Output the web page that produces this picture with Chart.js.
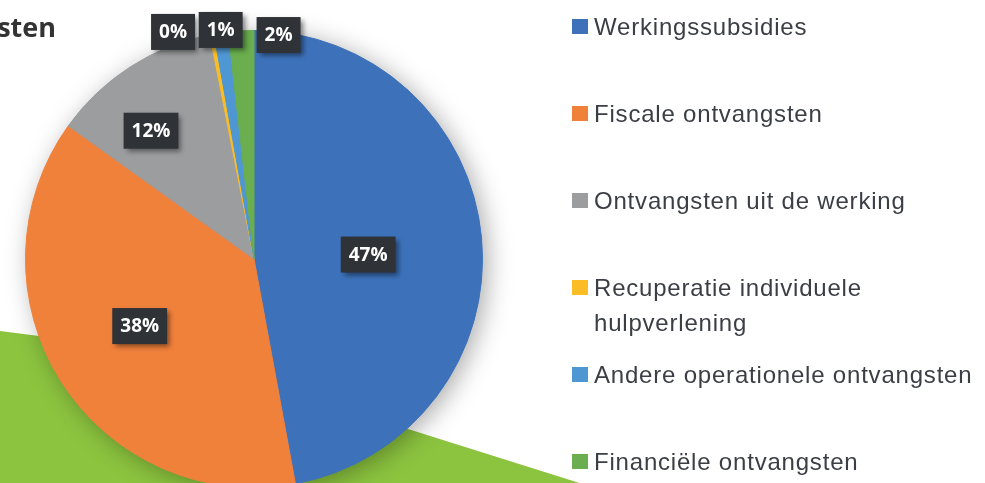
<!DOCTYPE html>
<html>
<head>
<meta charset="utf-8">
<script src="https://cdn.jsdelivr.net/npm/chart.js@4.4.1/dist/chart.umd.min.js"></script>
<style>
html, body { margin: 0; padding: 0; background: #fff; width: 985px; height: 483px; overflow: hidden; }
#wrap { position: relative; width: 985px; height: 483px; overflow: hidden; }
#chart { position: absolute; left: 0; top: 0; }
#title { position: absolute; left: 0; top: 9px; width: 56px; height: 38px; overflow: hidden; }
#title span { position: absolute; right: 0; top: 0; white-space: nowrap; font: 700 27px "Open Sans", sans-serif; line-height: 36px; color: #333; }
#legend { position: absolute; left: 572px; top: 0; }
.item { position: absolute; left: 0; width: 413px; }
.sw { position: absolute; left: 0; top: 0; width: 16px; height: 15px; }
.tx { position: absolute; left: 22px; top: -10px; width: 391px; font: 24px "Liberation Sans", sans-serif; line-height: 35px; color: #3b3e44; letter-spacing: 0.8px; }
</style>
</head>
<body>
<div id="wrap">
  <canvas id="chart" width="985" height="520"></canvas>
  <div id="title"><span>ontvangsten</span></div>
  <div id="legend"></div>
</div>
<script>
// categories and shares (percent of total receipts)
const categories = [
    'Werkingssubsidies',
    'Fiscale ontvangsten',
    'Ontvangsten uit de werking',
    'Recuperatie individuele hulpverlening',
    'Andere operationele ontvangsten',
    'Financiële ontvangsten'
]
const shares = [47.1, 37.8, 12.0, 0.3, 1.0, 1.8]
const colors = ['#3d72bb', '#f0813b', '#9b9d9f', '#fbbd26', '#4f97d3', '#6aae4f']

// where each percentage box sits: fraction of the radius, and angle shift in degrees
const labelPlace = [[0.5, 3], [0.58, 2], [0.72, -6], [1.055, -9], [1.013, 0], [0.986, 9.5]]

//green shape behind the pie
const backdrop = {
    id: 'backdrop',
    beforeDraw(chart) {
        const ctx = chart.ctx
        ctx.save()
        ctx.fillStyle = '#8cc43f'
        ctx.beginPath()
        ctx.moveTo(0, 331)
        ctx.lineTo(165, 352)
        ctx.lineTo(408, 429)
        ctx.lineTo(697, 520)
        ctx.lineTo(0, 520)
        ctx.closePath()
        ctx.fill()
        ctx.restore()
    }
}

//soft shadow under the whole pie
const pieShadow = {
    id: 'pieShadow',
    beforeDatasetsDraw(chart) {
        const arc = chart.getDatasetMeta(0).data[0]
        const ctx = chart.ctx
        ctx.save()
        ctx.shadowColor = 'rgba(0,0,0,0.35)'
        ctx.shadowBlur = 26
        ctx.shadowOffsetX = 5
        ctx.shadowOffsetY = 4
        ctx.fillStyle = '#888'
        ctx.beginPath()
        ctx.arc(arc.x, arc.y, arc.outerRadius - 1, 0, Math.PI * 2)
        ctx.fill()
        ctx.restore()
    }
}

//dark percentage boxes
const percentBoxes = {
    id: 'percentBoxes',
    afterDatasetsDraw(chart) {
        const ctx = chart.ctx
        const total = shares.reduce((a, b) => a + b, 0)
        ctx.save()
        ctx.font = 'bold 19px "Open Sans", sans-serif'
        ctx.textAlign = 'center'
        ctx.textBaseline = 'middle'
        chart.getDatasetMeta(0).data.forEach((arc, i) => {
            const [f, shift] = labelPlace[i]
            const mid = (arc.startAngle + arc.endAngle) / 2 + shift * Math.PI / 180
            const r = arc.outerRadius * f
            const x = arc.x + Math.cos(mid) * r
            const y = arc.y + Math.sin(mid) * r
            const text = Math.round(shares[i] / total * 100) + '%'
            const w = ctx.measureText(text).width + 16
            const h = 36
            ctx.shadowColor = 'rgba(0,0,0,0.45)'
            ctx.shadowBlur = 5
            ctx.shadowOffsetX = 3
            ctx.shadowOffsetY = 3
            ctx.fillStyle = '#2f3338'
            ctx.fillRect(x - w / 2, y - h / 2, w, h)
            ctx.shadowColor = 'transparent'
            ctx.fillStyle = '#ffffff'
            ctx.fillText(text, x, y + 1)
        })
        ctx.restore()
    }
}

new Chart(document.querySelector('#chart').getContext('2d'), {
    type: 'pie',
    data: {
        labels: categories,
        datasets: [{
            data: shares,
            backgroundColor: colors,
            borderColor: colors,
            borderWidth: 1
        }]
    },
    options: {
        responsive: false,
        animation: false,
        layout: { padding: { left: 25, top: 30, right: 502, bottom: 32 } },
        plugins: {
            legend: { display: false },
            tooltip: { enabled: false }
        }
    },
    plugins: [backdrop, pieShadow, percentBoxes]
})

// legend on the right
const legend = document.querySelector('#legend')
categories.forEach((name, i) => {
    const item = document.createElement('div')
    item.className = 'item'
    item.style.top = (19 + i * 87) + 'px'
    item.innerHTML = '<div class="sw" style="background:' + colors[i] + '"></div><div class="tx">' + name + '</div>'
    legend.appendChild(item)
})
</script>
</body>
</html>
